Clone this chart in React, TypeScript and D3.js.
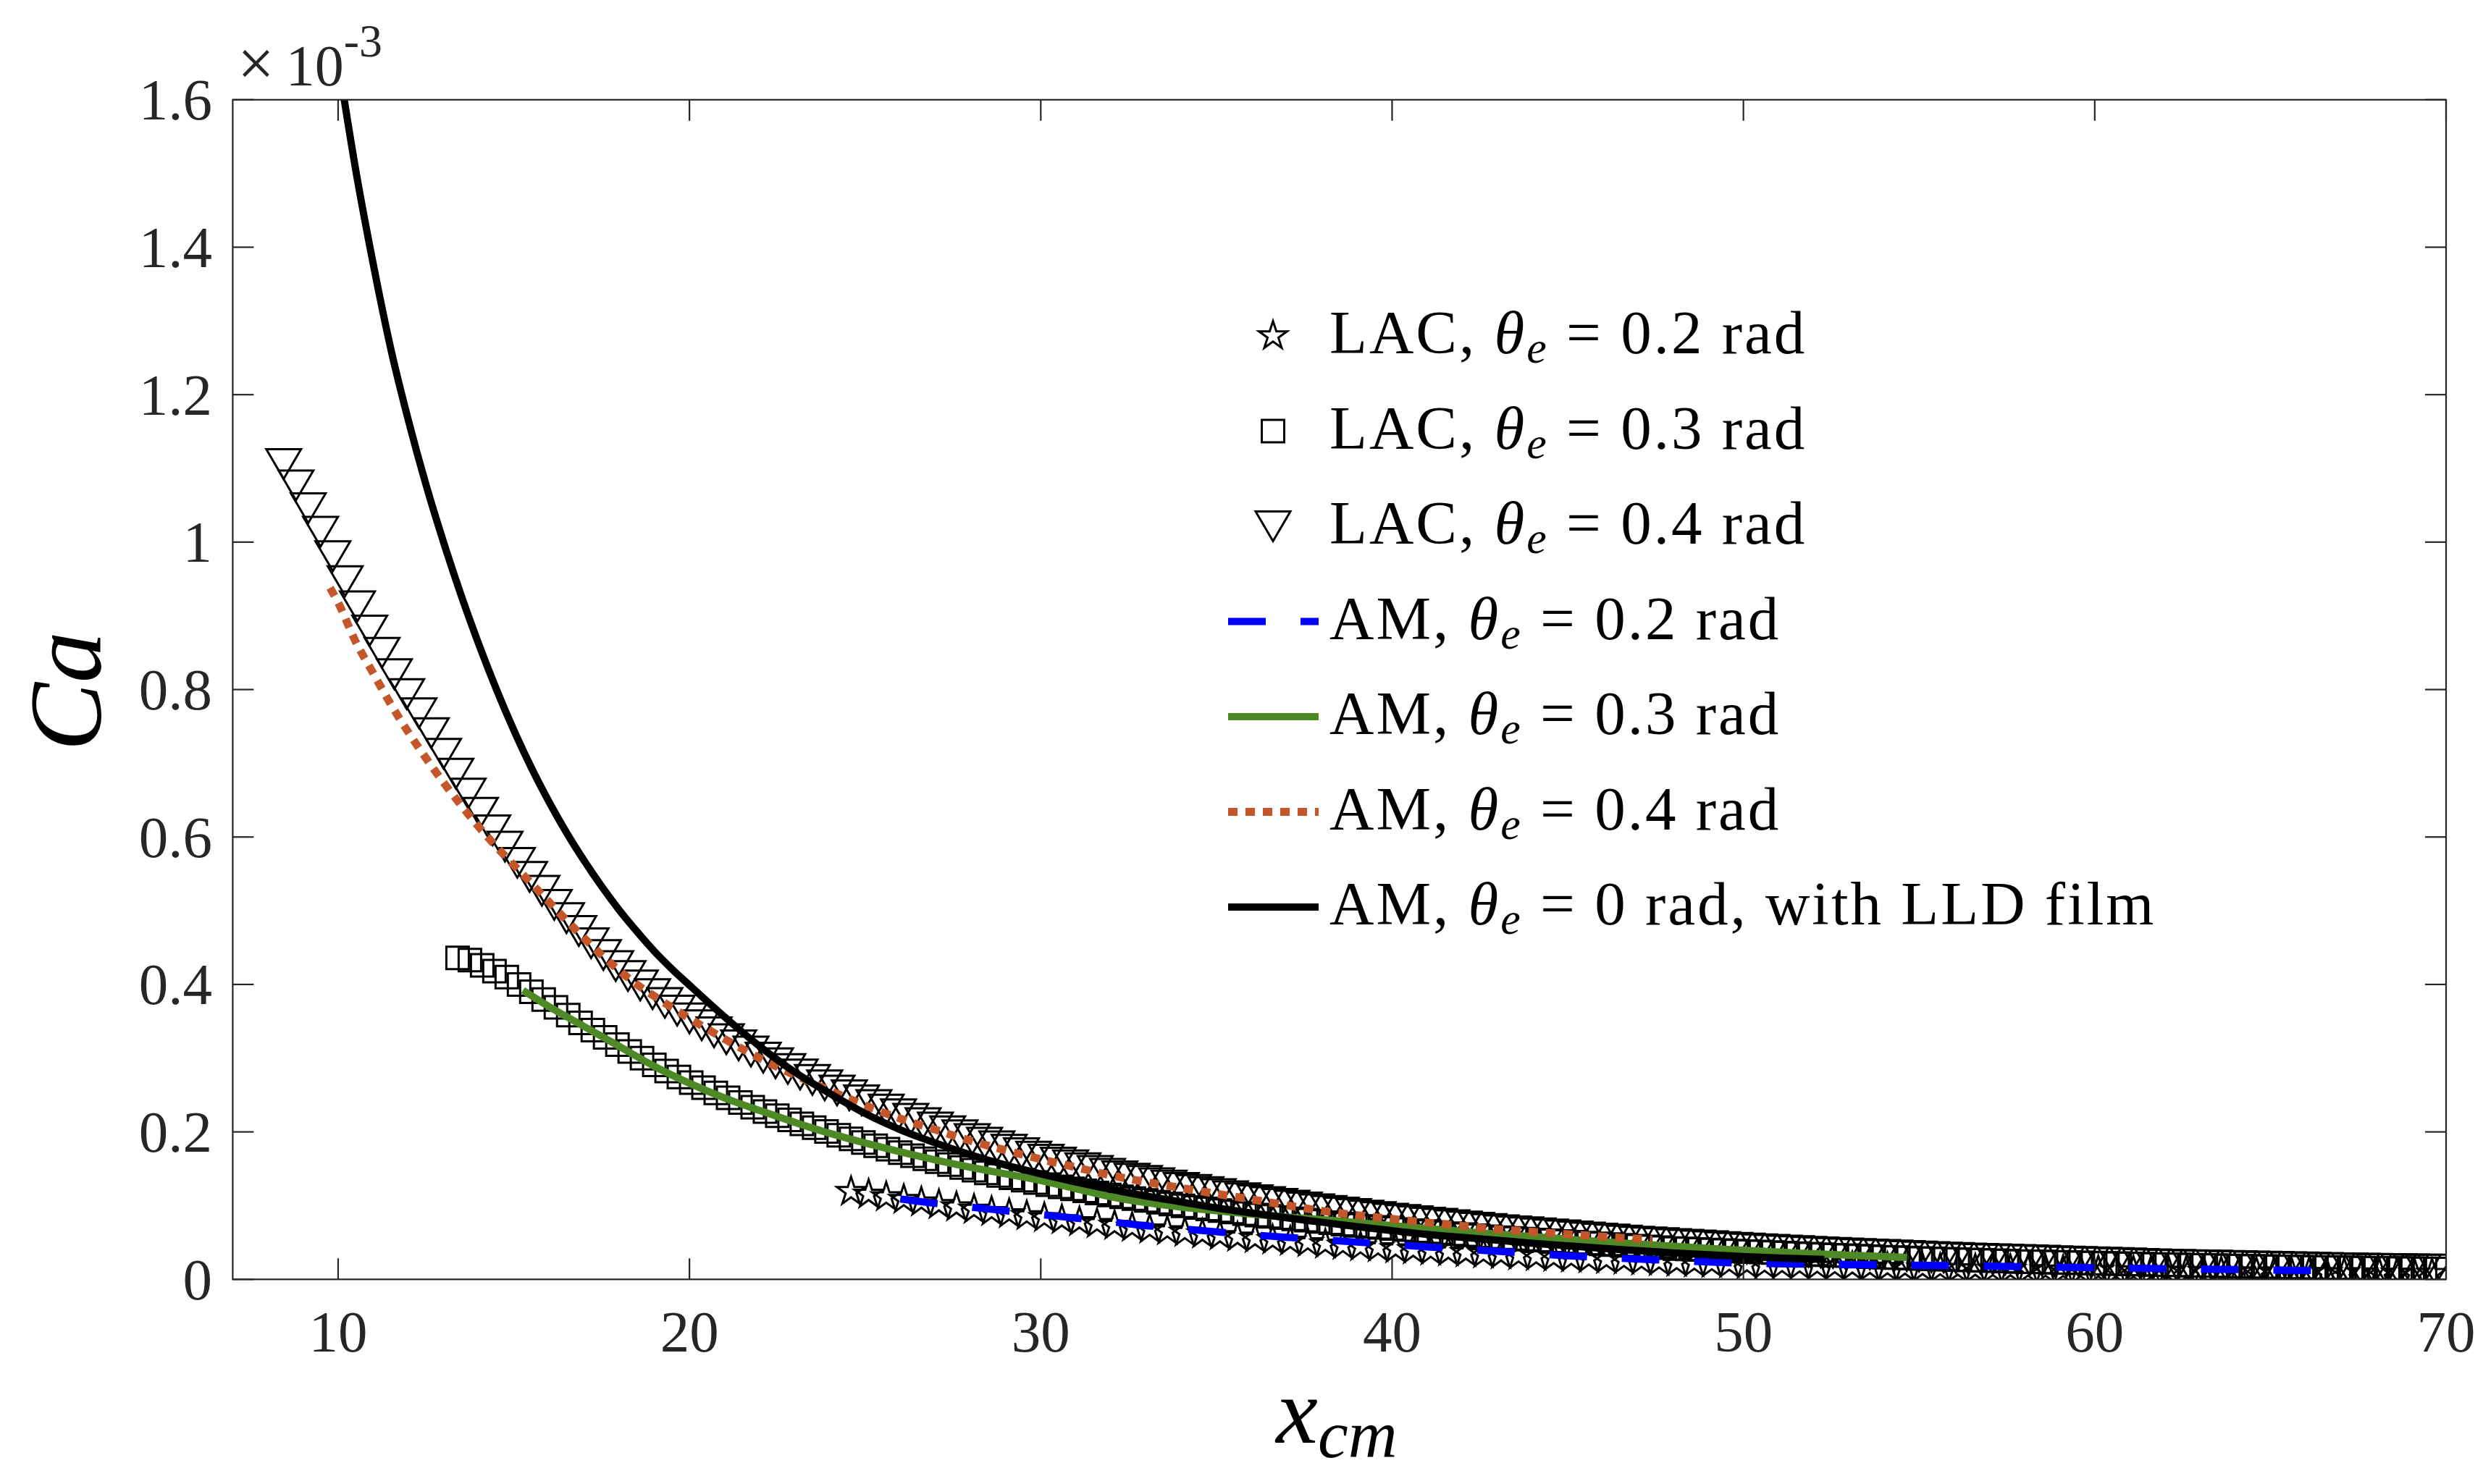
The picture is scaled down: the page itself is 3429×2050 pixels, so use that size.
import React from 'react';
import * as d3 from 'd3';

// ---------- data (Ca in units of 1e-3) ----------
const xTicks = [10, 20, 30, 40, 50, 60, 70];
const yTicks = [0, 0.2, 0.4, 0.6, 0.8, 1, 1.2, 1.4, 1.6];
const yTickLabels = ['0', '0.2', '0.4', '0.6', '0.8', '1', '1.2', '1.4', '1.6'];

// LAC, theta_e = 0.4 rad (triangles)
const lac04X = [8.45, 8.8, 9.15, 9.5, 9.85, 10.2, 10.55, 10.9, 11.25, 11.6, 11.95, 12.3, 12.65, 13, 13.35, 13.7, 14.05, 14.4, 14.75, 15.1,
  15.45, 15.8, 16.15, 16.5, 16.85, 17.2, 17.55, 17.9, 18.25, 18.6, 18.95, 19.3, 19.65, 20, 20.35, 20.7, 21.05, 21.4, 21.75, 22.1,
  22.45, 22.8, 23.15, 23.5, 23.85, 24.2, 24.55, 24.9, 25.25, 25.6, 25.95, 26.3, 26.65, 27, 27.35, 27.7, 28.05, 28.4, 28.75, 29.1,
  29.45, 29.8, 30.15, 30.5, 30.85, 31.2, 31.55, 31.9, 32.25, 32.6, 32.95, 33.3, 33.65, 34, 34.35, 34.7, 35.05, 35.4, 35.75, 36.1,
  36.45, 36.8, 37.15, 37.5, 37.85, 38.2, 38.55, 38.9, 39.25, 39.6, 39.95, 40.3, 40.65, 41, 41.35, 41.7, 42.05, 42.4, 42.75, 43.1,
  43.45, 43.8, 44.15, 44.5, 44.85, 45.2, 45.55, 45.9, 46.25, 46.6, 46.95, 47.3, 47.65, 48, 48.35, 48.7, 49.05, 49.4, 49.75, 50.1,
  50.45, 50.8, 51.15, 51.5, 51.85, 52.2, 52.55, 52.9, 53.25, 53.6, 53.95, 54.3, 54.65, 55, 55.35, 55.7, 56.05, 56.4, 56.75, 57.1,
  57.45, 57.8, 58.15, 58.5, 58.85, 59.2, 59.55, 59.9, 60.25, 60.6, 60.95, 61.3, 61.65, 62, 62.35, 62.7, 63.05, 63.4, 63.75, 64.1,
  64.45, 64.8, 65.15, 65.5, 65.85, 66.2, 66.55, 66.9, 67.25, 67.6, 67.95, 68.3, 68.65, 69, 69.35, 69.7];
const lac04Y = [1.106, 1.077, 1.046, 1.014, 0.981, 0.947, 0.913, 0.880, 0.850, 0.821,
  0.794, 0.768, 0.741, 0.713, 0.686, 0.659, 0.633, 0.609, 0.587, 0.565,
  0.546, 0.527, 0.508, 0.490, 0.4725, 0.456, 0.440, 0.425, 0.4115, 0.3986,
  0.387, 0.375, 0.3645, 0.354, 0.3446, 0.3351, 0.3258, 0.3174, 0.309, 0.3008,
  0.2931, 0.2854, 0.2779, 0.2705, 0.2632, 0.2562, 0.2496, 0.2429, 0.2365, 0.2302,
  0.2239, 0.2179, 0.212, 0.206, 0.2008, 0.1955, 0.1903, 0.1854, 0.1805, 0.1757,
  0.1712, 0.1666, 0.1624, 0.1585, 0.1547, 0.1508, 0.147, 0.1431, 0.1398, 0.1366,
  0.1335, 0.1303, 0.1272, 0.124, 0.1212, 0.1184, 0.1156, 0.1128, 0.11, 0.1073,
  0.1049, 0.1024, 0.1, 0.0975, 0.0951, 0.0928, 0.0907, 0.0886, 0.0865, 0.0844,
  0.0823, 0.0805, 0.0788, 0.077, 0.0753, 0.0735, 0.0718, 0.07, 0.0683, 0.0666,
  0.0652, 0.0638, 0.0624, 0.061, 0.0596, 0.0582, 0.0568, 0.0554, 0.054, 0.0526,
  0.0512, 0.0501, 0.0491, 0.048, 0.047, 0.0459, 0.0449, 0.0438, 0.0428, 0.0418,
  0.0409, 0.04, 0.0391, 0.0383, 0.0374, 0.0366, 0.0359, 0.0352, 0.0345, 0.0338,
  0.0331, 0.0324, 0.0317, 0.031, 0.0303, 0.0296, 0.0289, 0.0284, 0.0279, 0.0273,
  0.0268, 0.0263, 0.0258, 0.0253, 0.0247, 0.0242, 0.0237, 0.0232, 0.0226, 0.0221,
  0.0216, 0.021, 0.0205, 0.02, 0.0197, 0.0193, 0.019, 0.0186, 0.0183, 0.0179,
  0.0176, 0.0172, 0.0169, 0.0165, 0.0162, 0.0158, 0.0155, 0.0151, 0.0148, 0.0146,
  0.0143, 0.0141, 0.0138, 0.0136, 0.0134, 0.0132];

// LAC, theta_e = 0.3 rad (squares)
const lac03X = [13.4, 13.75, 14.1, 14.45, 14.8, 15.15, 15.5, 15.85, 16.2, 16.55,
  16.9, 17.25, 17.6, 17.95, 18.3, 18.65, 19, 19.35, 19.7, 20.05,
  20.4, 20.75, 21.1, 21.45, 21.8, 22.15, 22.5, 22.85, 23.2, 23.55,
  23.9, 24.25, 24.6, 24.95, 25.3, 25.65, 26, 26.35, 26.7, 27.05,
  27.4, 27.75, 28.1, 28.45, 28.8, 29.15, 29.5, 29.85, 30.2, 30.55,
  30.9, 31.25, 31.6, 31.95, 32.3, 32.65, 33, 33.35, 33.7, 34.05,
  34.4, 34.75, 35.1, 35.45, 35.8, 36.15, 36.5, 36.85, 37.2, 37.55,
  37.9, 38.25, 38.6, 38.95, 39.3, 39.65, 40, 40.35, 40.7, 41.05,
  41.4, 41.75, 42.1, 42.45, 42.8, 43.15, 43.5, 43.85, 44.2, 44.55,
  44.9, 45.25, 45.6, 45.95, 46.3, 46.65, 47, 47.35, 47.7, 48.05,
  48.4, 48.75, 49.1, 49.45, 49.8, 50.15, 50.5, 50.85, 51.2, 51.55,
  51.9, 52.25, 52.6, 52.95, 53.3, 53.65, 54, 54.35, 54.7, 55.05,
  55.4, 55.75, 56.1, 56.45, 56.8, 57.15, 57.5, 57.85, 58.2, 58.55,
  58.9, 59.25, 59.6, 59.95, 60.3, 60.65, 61, 61.35, 61.7, 62.05,
  62.4, 62.75, 63.1, 63.45, 63.8, 64.15, 64.5, 64.85, 65.2, 65.55,
  65.9, 66.25, 66.6, 66.95, 67.3, 67.65, 68, 68.35, 68.7, 69.05,
  69.4, 69.75];
const lac03Y = [0.436, 0.433, 0.426, 0.418, 0.41, 0.4, 0.39, 0.3795, 0.369, 0.3585,
  0.348, 0.338, 0.3282, 0.3184, 0.3092, 0.3001, 0.291, 0.2826, 0.2746, 0.267,
  0.26, 0.253, 0.2462, 0.2399, 0.2336, 0.2276, 0.222, 0.2164, 0.211, 0.2058,
  0.2005, 0.1955, 0.1906, 0.1857, 0.1811, 0.1766, 0.172, 0.1678, 0.1636, 0.1595,
  0.1556, 0.1518, 0.148, 0.1445, 0.141, 0.1377, 0.1345, 0.1314, 0.1284, 0.1256,
  0.1228, 0.12, 0.1172, 0.1144, 0.1119, 0.1096, 0.107, 0.1046, 0.1021, 0.0997,
  0.0976, 0.0955, 0.0934, 0.0913, 0.0892, 0.0873, 0.0855, 0.0838, 0.082, 0.0803,
  0.0785, 0.0768, 0.075, 0.0733, 0.0718, 0.0704, 0.069, 0.0676, 0.0662, 0.0648,
  0.0634, 0.062, 0.0606, 0.0592, 0.0578, 0.0566, 0.0555, 0.0545, 0.0534, 0.0524,
  0.0513, 0.0503, 0.0492, 0.0482, 0.0471, 0.0461, 0.045, 0.044, 0.0429, 0.0419,
  0.0412, 0.0405, 0.0398, 0.0391, 0.0384, 0.0377, 0.037, 0.0363, 0.0356, 0.0349,
  0.0342, 0.0335, 0.0328, 0.0321, 0.0314, 0.0307, 0.03, 0.0295, 0.029, 0.0284,
  0.0279, 0.0274, 0.0269, 0.0263, 0.0258, 0.0253, 0.0248, 0.0242, 0.0238, 0.0235,
  0.0231, 0.0228, 0.0224, 0.0221, 0.0217, 0.0214, 0.021, 0.0207, 0.0203, 0.02,
  0.0196, 0.0193, 0.0189, 0.0186, 0.0182, 0.0179, 0.0176, 0.0174, 0.0171, 0.0168,
  0.0166, 0.0163, 0.0161, 0.0158, 0.0155, 0.0153, 0.015, 0.0148, 0.0147, 0.0145,
  0.0143, 0.0141];

// LAC, theta_e = 0.2 rad (pentagrams)
const lac02X = [24.6, 25.1, 25.6, 26.1, 26.6, 27.1, 27.6, 28.1, 28.6, 29.1,
  29.6, 30.1, 30.6, 31.1, 31.6, 32.1, 32.6, 33.1, 33.6, 34.1,
  34.6, 35.1, 35.6, 36.1, 36.6, 37.1, 37.6, 38.1, 38.6, 39.1,
  39.6, 40.1, 40.6, 41.1, 41.6, 42.1, 42.6, 43.1, 43.6, 44.1,
  44.6, 45.1, 45.6, 46.1, 46.6, 47.1, 47.6, 48.1, 48.6, 49.1,
  49.6, 50.1, 50.6, 51.1, 51.6, 52.1, 52.6, 53.1, 53.6, 54.1,
  54.6, 55.1, 55.6, 56.1, 56.6, 57.1, 57.6, 58.1, 58.6, 59.1,
  59.6, 60.1, 60.6, 61.1, 61.6, 62.1, 62.6, 63.1, 63.6, 64.1,
  64.6, 65.1, 65.6, 66.1, 66.6, 67.1, 67.6, 68.1, 68.6, 69.1, 69.6];
const lac02Y = [0.119, 0.1153, 0.1118, 0.1083, 0.1048, 0.1013, 0.0981, 0.0949, 0.0919, 0.0889,
  0.0862, 0.0835, 0.0807, 0.078, 0.0755, 0.073, 0.0705, 0.0681, 0.0658, 0.0636,
  0.0613, 0.0591, 0.0571, 0.0552, 0.0534, 0.0516, 0.0496, 0.0477, 0.0459, 0.0442,
  0.0427, 0.0412, 0.0397, 0.0383, 0.037, 0.0358, 0.0345, 0.0333, 0.032, 0.0308,
  0.0298, 0.0288, 0.0278, 0.0268, 0.0258, 0.0248, 0.0238, 0.0229, 0.0221, 0.0214,
  0.0206, 0.0199, 0.0194, 0.0189, 0.0184, 0.0179, 0.0174, 0.0169, 0.0164, 0.0159,
  0.0154, 0.0149, 0.0146, 0.0142, 0.0139, 0.0135, 0.0132, 0.0129, 0.0126, 0.0123,
  0.012, 0.0118, 0.0115, 0.0113, 0.011, 0.0108, 0.0105, 0.0103, 0.0101, 0.0099,
  0.0097, 0.0095, 0.0093, 0.0091, 0.0089, 0.0087, 0.0085, 0.0083, 0.0081, 0.008, 0.0078];

// AM, theta_e = 0.2 rad (blue dashed)
const am02X = [26, 27, 28, 29, 30, 31, 32, 33, 34, 35, 36, 37, 38, 39, 40, 41, 42, 43, 44, 45, 46, 47, 48, 49, 50, 52, 54, 56, 58, 60, 62, 64, 66.2];
const am02Y = [0.109, 0.103, 0.098, 0.093, 0.088, 0.083, 0.078, 0.0728, 0.0686, 0.0645, 0.0605, 0.057, 0.0538, 0.0505, 0.0473, 0.0441, 0.041, 0.038, 0.035, 0.032, 0.0297, 0.0275, 0.0255, 0.0236, 0.022, 0.0205, 0.0195, 0.0185, 0.0172, 0.0158, 0.0145, 0.0133, 0.012];

// AM, theta_e = 0.3 rad (green solid)
const am03X = [15.26, 16, 17, 18, 19, 20, 21, 22, 23, 24, 25, 26, 27, 28, 29, 30, 31, 32, 33, 34, 35, 36, 37, 38, 39, 40, 41, 42, 43, 44, 45, 46, 47, 48, 49, 50, 51, 52, 53, 54, 54.66];
const am03Y = [0.392, 0.37, 0.343, 0.316, 0.289, 0.266, 0.246, 0.229, 0.213, 0.198, 0.185, 0.173, 0.162, 0.152, 0.143, 0.134, 0.123, 0.112, 0.104, 0.098, 0.093, 0.0885, 0.0845, 0.081, 0.077, 0.073, 0.069, 0.065, 0.0615, 0.058, 0.0545, 0.051, 0.048, 0.045, 0.042, 0.0395, 0.037, 0.0348, 0.0328, 0.031, 0.0298];

// AM, theta_e = 0.4 rad (orange dotted)
const am04X = [9.77, 10, 10.5, 11, 11.5, 12, 12.5, 13, 13.5, 14, 14.5, 15, 15.5, 16, 16.5, 17, 17.5, 18, 18.5, 19, 20, 21, 22, 23, 24, 25, 26, 27, 28, 29, 30, 31, 32, 33, 34, 35, 36, 37, 38, 39, 40, 41, 42, 43, 44, 45, 46, 47, 47.4];
const am04Y = [0.938, 0.918, 0.865, 0.822, 0.78, 0.742, 0.707, 0.674, 0.643, 0.614, 0.587, 0.562, 0.537, 0.512, 0.487, 0.463, 0.44, 0.419, 0.4, 0.384, 0.354, 0.326, 0.3, 0.277, 0.256, 0.236, 0.218, 0.203, 0.188, 0.175, 0.163, 0.152, 0.141, 0.132, 0.124, 0.116, 0.1085, 0.1005, 0.093, 0.087, 0.082, 0.077, 0.0725, 0.068, 0.0645, 0.0612, 0.058, 0.055, 0.054];

// AM, theta_e = 0 rad, with LLD film (black solid)
const amLLDX = [10, 10.5, 11, 11.5, 12, 12.5, 13, 13.5, 14, 14.5, 15, 15.5, 16, 16.5, 17, 17.5, 18, 18.5, 19, 19.5, 20, 21, 22, 23, 24, 25, 26, 27, 28, 29, 30, 31, 32, 33, 34, 35, 36, 37, 38, 39, 40, 41, 42, 43, 44, 45, 46, 47, 48, 49, 50, 51, 52.3];
const amLLDY = [1.653, 1.505, 1.377, 1.262, 1.165, 1.078, 1.0, 0.928, 0.862, 0.801, 0.745, 0.694, 0.648, 0.606, 0.568, 0.533, 0.501, 0.472, 0.445, 0.421, 0.399, 0.356, 0.316, 0.281, 0.252, 0.225, 0.203, 0.185, 0.169, 0.155, 0.143, 0.132, 0.122, 0.113, 0.105, 0.097, 0.09, 0.0835, 0.0775, 0.0715, 0.066, 0.061, 0.057, 0.053, 0.049, 0.0455, 0.042, 0.039, 0.036, 0.0335, 0.031, 0.029, 0.027];

// ---------- layout ----------
const W = 3429;
const H = 2050;
const PL = 321.4, PR = 3378, PT = 137.8, PB = 1767.3;
const AXIS = '#262626';
const FONT = '"Liberation Serif", "Times New Roman", serif';
const BLUE = '#0000FF';
const GREEN = '#4D8A25';
const ORANGE = '#C4572A';

const zip = (xs: number[], ys: number[]) => xs.map((v, i) => [v, ys[i]] as [number, number]);

const starPath = (R: number) => {
  const r = R * 0.382;
  const pts: string[] = [];
  for (let k = 0; k < 10; k++) {
    const a = -Math.PI / 2 + (k * Math.PI) / 5;
    const rr = k % 2 === 0 ? R : r;
    pts.push(`${(rr * Math.cos(a)).toFixed(2)},${(rr * Math.sin(a)).toFixed(2)}`);
  }
  return 'M' + pts.join('L') + 'Z';
};
const triPath = (w: number, h: number) => `M${-w / 2},${-h / 2}L${w / 2},${-h / 2}L0,${h / 2}Z`;
const sqPath = (s: number) => `M${-s / 2},${-s / 2}H${s / 2}V${s / 2}H${-s / 2}Z`;

const STAR = starPath(20.5);
const TRI = triPath(48, 41);
const SQ = sqPath(31);

export default function App() {
  const x = d3.scaleLinear().domain([7, 70]).range([PL, PR]);
  const y = d3.scaleLinear().domain([0, 1.6]).range([PB, PT]);
  const line = d3
    .line<[number, number]>()
    .x((d) => x(d[0]))
    .y((d) => y(d[1]))
    .curve(d3.curveMonotoneX);

  const stars = zip(lac02X, lac02Y);
  const squares = zip(lac03X, lac03Y);
  const tris = zip(lac04X, lac04Y);

  const legendRows = [
    { kind: 'star', label: 'LAC, ', val: ' = 0.2 rad' },
    { kind: 'sq', label: 'LAC, ', val: ' = 0.3 rad' },
    { kind: 'tri', label: 'LAC, ', val: ' = 0.4 rad' },
    { kind: 'blue', label: 'AM, ', val: ' = 0.2 rad' },
    { kind: 'green', label: 'AM, ', val: ' = 0.3 rad' },
    { kind: 'orange', label: 'AM, ', val: ' = 0.4 rad' },
    { kind: 'black', label: 'AM, ', val: ' = 0 rad, with LLD film' },
  ];
  const legY0 = 464;
  const legDy = 131.5;
  const legX0 = 1696, legX1 = 1821, legMx = 1758, legTx = 1836;

  const lineStyle: Record<string, any> = {
    blue: { stroke: BLUE, strokeWidth: 10, strokeDasharray: '52 48' },
    green: { stroke: GREEN, strokeWidth: 10 },
    orange: { stroke: ORANGE, strokeWidth: 11, strokeDasharray: '13 11' },
    black: { stroke: '#000', strokeWidth: 10 },
  };

  return (
    <svg
      width={W}
      height={H}
      viewBox={`0 0 ${W} ${H}`}
      style={{ position: 'absolute', left: 0, top: 0, background: '#fff' }}
      fontFamily={FONT}
    >
      <rect x={0} y={0} width={W} height={H} fill="#fff" />
      <defs>
        <clipPath id="plotClip">
          <rect x={PL} y={PT} width={PR - PL} height={PB - PT} />
        </clipPath>
      </defs>

      {/* data */}
      <g clipPath="url(#plotClip)">
        <g fill="none" stroke="#000" strokeWidth={3}>
          {stars.map((d, i) => (
            <path key={'s' + i} d={STAR} transform={`translate(${x(d[0])},${y(d[1])})`} />
          ))}
          {squares.map((d, i) => (
            <path key={'q' + i} d={SQ} transform={`translate(${x(d[0])},${y(d[1])})`} />
          ))}
          {tris.map((d, i) => (
            <path key={'t' + i} d={TRI} transform={`translate(${x(d[0])},${y(d[1])})`} />
          ))}
        </g>
        <path d={line(zip(am02X, am02Y)) || ''} fill="none" {...lineStyle.blue} />
        <path d={line(zip(am03X, am03Y)) || ''} fill="none" {...lineStyle.green} />
        <path d={line(zip(am04X, am04Y)) || ''} fill="none" {...lineStyle.orange} />
        <path d={line(zip(amLLDX, amLLDY)) || ''} fill="none" {...lineStyle.black} />
      </g>

      {/* axes box */}
      <rect x={PL} y={PT} width={PR - PL} height={PB - PT} fill="none" stroke={AXIS} strokeWidth={2.2} />
      <g stroke={AXIS} strokeWidth={2.2}>
        {xTicks.map((t) => (
          <g key={'xt' + t}>
            <line x1={x(t)} x2={x(t)} y1={PB} y2={PB - 29} />
            <line x1={x(t)} x2={x(t)} y1={PT} y2={PT + 29} />
          </g>
        ))}
        {yTicks.map((t) => (
          <g key={'yt' + t}>
            <line x1={PL} x2={PL + 29} y1={y(t)} y2={y(t)} />
            <line x1={PR} x2={PR - 29} y1={y(t)} y2={y(t)} />
          </g>
        ))}
      </g>
      <g fill={AXIS} fontSize={81}>
        {xTicks.map((t) => (
          <text key={'xl' + t} x={x(t)} y={1867} textAnchor="middle">
            {t}
          </text>
        ))}
        {yTicks.map((t, i) => (
          <text key={'yl' + t} x={293} y={y(t)} dy="0.34em" textAnchor="end">
            {yTickLabels[i]}
          </text>
        ))}
      </g>

      {/* exponent */}
      <text x={328} y={118} fill={AXIS} fontSize={80}>
        <tspan fontSize={90}>×</tspan>
        <tspan dx={16}>10</tspan>
        <tspan fontSize={64} dy={-40}>
          -3
        </tspan>
      </text>

      {/* axis labels */}
      <text x={1846} y={1993} textAnchor="middle" fontSize={130} fontStyle="italic" fill="#000">
        x
        <tspan fontSize={94} dy={20}>
          cm
        </tspan>
      </text>
      <text
        transform={`translate(139,955) rotate(-90)`}
        textAnchor="middle"
        fontSize={142}
        fontStyle="italic"
        fill="#000"
      >
        Ca
      </text>

      {/* legend */}
      <g>
        {legendRows.map((r, i) => {
          const cy = legY0 + i * legDy;
          let sym: any = null;
          if (r.kind === 'star') sym = <path d={STAR} transform={`translate(${legMx},${cy})`} fill="none" stroke="#000" strokeWidth={3} />;
          else if (r.kind === 'sq') sym = <path d={SQ} transform={`translate(${legMx},${cy})`} fill="none" stroke="#000" strokeWidth={3} />;
          else if (r.kind === 'tri') sym = <path d={TRI} transform={`translate(${legMx},${cy})`} fill="none" stroke="#000" strokeWidth={3} />;
          else sym = <line x1={legX0} x2={legX1} y1={cy} y2={cy} {...lineStyle[r.kind]} />;
          return (
            <g key={'lg' + i}>
              {sym}
              <text x={legTx} y={cy + 24} fontSize={85} fill="#000" letterSpacing={3}>
                {r.label}
                <tspan fontStyle="italic">θ</tspan>
                <tspan fontStyle="italic" fontSize={62} dy={13}>
                  e
                </tspan>
                <tspan dy={-13}>{r.val}</tspan>
              </text>
            </g>
          );
        })}
      </g>
    </svg>
  );
}
